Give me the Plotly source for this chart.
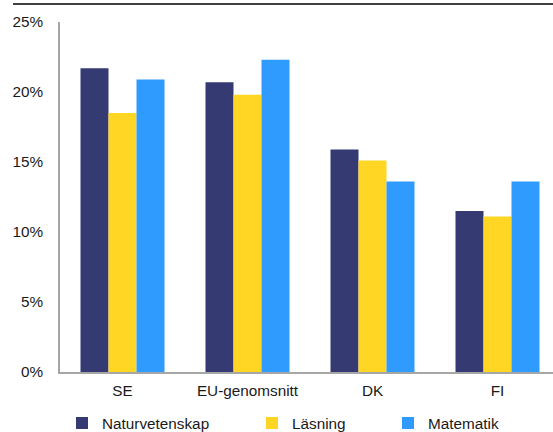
import plotly.graph_objects as go

categories = ["SE", "EU-genomsnitt", "DK", "FI"]
naturvetenskap = [0.217, 0.207, 0.159, 0.115]
lasning = [0.185, 0.198, 0.151, 0.111]
matematik = [0.209, 0.223, 0.136, 0.136]
y_ticks = [0, 0.05, 0.10, 0.15, 0.20, 0.25]
y_labels = ["0%", "5%", "10%", "15%", "20%", "25%"]

series = [
    ("Naturvetenskap", naturvetenskap, "#353B72", "legend"),
    ("Läsning", lasning, "#FFD624", "legend2"),
    ("Matematik", matematik, "#2F9BFE", "legend3"),
]

FONT = dict(family="Liberation Sans, Arial, sans-serif", size=15.3, color="#1a1a1a")

fig = go.Figure()
for name, vals, color, lg in series:
    fig.add_trace(go.Bar(x=categories, y=vals, name=name, marker=dict(color=color, line=dict(width=0)),
                         legend=lg, showlegend=True))

W, H = 553, 432
L, R, T, B = 60, 0, 22, 60
pw = W - L - R
ph = H - T - B

def px_x(x):
    return (x - L) / pw

def px_y(y):
    return (H - B - y) / ph

leg_common = dict(orientation="h", yanchor="middle", xanchor="left", font=FONT,
                  bgcolor="rgba(0,0,0,0)", borderwidth=0, xref="container", yref="container",
                  y=1 - 423 / H, visible=True)

fig.update_layout(
    width=W, height=H,
    margin=dict(l=L, r=R, t=T, b=B, pad=0),
    paper_bgcolor="white", plot_bgcolor="white",
    font=FONT,
    showlegend=True,
    barmode="group", bargap=0.328, bargroupgap=0,
    xaxis=dict(range=[-0.5, -0.5 + pw / 125.0], showgrid=False, showline=True, linecolor="#A6A6A6",
               linewidth=1.5, ticks="", tickfont=FONT, ticklabelstandoff=4, zeroline=False,
               fixedrange=True),
    yaxis=dict(range=[0, 0.25], tickvals=y_ticks, ticktext=y_labels, showgrid=False, showline=True,
               linecolor="#A6A6A6", linewidth=1.5, ticks="", tickfont=FONT, ticklabelstandoff=12,
               zeroline=False),
    legend=dict(x=62 / W, **leg_common),
    legend2=dict(x=252 / W, **leg_common),
    legend3=dict(x=388 / W, **leg_common),
    shapes=[dict(type="line", xref="paper", yref="paper", x0=px_x(13), x1=1.0,
                 y0=px_y(4), y1=px_y(4), line=dict(color="black", width=1.5))],
)

fig.write_html("out.html")
